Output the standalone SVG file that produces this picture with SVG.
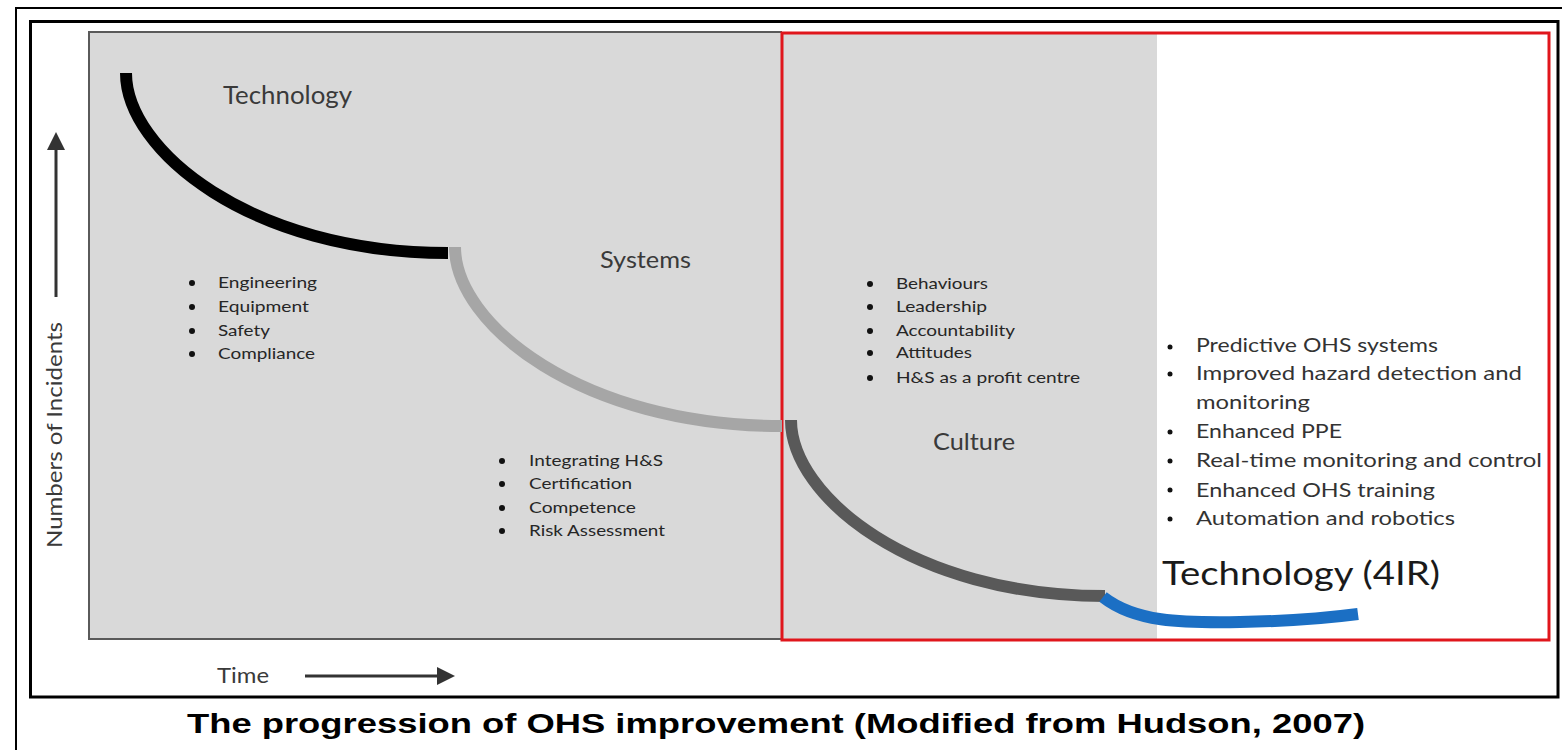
<svg xmlns="http://www.w3.org/2000/svg" width="1562" height="750" viewBox="0 0 1562 750">
  <style>
    .lbl { font-family: Lato, "Open Sans", "Liberation Sans", sans-serif; fill: #3a3a3a; }
    .item { font-family: Lato, "Open Sans", "Liberation Sans", sans-serif; font-size: 16px; fill: #262626; }
    .item4 { font-family: Lato, "Open Sans", "Liberation Sans", sans-serif; font-size: 20px; fill: #333333; }
    .dot { fill: #111111; }
    .curve { fill: none; stroke-width: 12; stroke-linecap: butt; }
    .axis { stroke: #333333; stroke-width: 3; fill: none; }
  </style>
  <defs>
    <marker id="head" viewBox="0 0 10 10" refX="0" refY="5" markerWidth="6" markerHeight="6" orient="auto" markerUnits="strokeWidth">
      <path d="M0,0 L10,5 L0,10 Z" fill="#333333"/>
    </marker>
  </defs>

  <rect width="1562" height="750" fill="#ffffff"/>

  <!-- outer and inner frames -->
  <path d="M16,750 V8 H1562" fill="none" stroke="#000000" stroke-width="2"/>
  <rect x="30.5" y="21.5" width="1527.5" height="675.5" fill="none" stroke="#000000" stroke-width="3"/>

  <!-- plot area -->
  <g id="plot-area">
    <rect x="89" y="32" width="1068" height="607" fill="#d9d9d9"/>
    <path d="M782,32 H89 V639 H782" fill="none" stroke="#5a5a5a" stroke-width="2"/>
  </g>

  <!-- highlighted 4IR region -->
  <g id="region-4ir">
    <rect x="782" y="33" width="767" height="607" fill="none" stroke="#e0161c" stroke-width="3"/>
  </g>

  <!-- axes -->
  <g id="axes">
    <line class="axis" x1="56" y1="297" x2="56" y2="150" marker-end="url(#head)"/>
    <text class="lbl" font-size="21" text-anchor="middle" textLength="226" lengthAdjust="spacingAndGlyphs" transform="translate(62,435) rotate(-90)">Numbers of Incidents</text>
    <line class="axis" x1="305" y1="676" x2="437" y2="676" marker-end="url(#head)"/>
    <text class="lbl" x="217" y="683" font-size="22" textLength="52" lengthAdjust="spacingAndGlyphs">Time</text>
  </g>

  <!-- progression curves -->
  <g id="connectors">
    <path class="curve" stroke="#000000" d="M126,73 C126,150 250,253 448,253"/>
    <path class="curve" stroke="#a6a6a6" d="M455,247 C455,324 581,426 782,426"/>
    <path class="curve" stroke="#595959" d="M791,420 C791,496 912,596 1105,596"/>
    <path class="curve" stroke="#1b6fc4" d="M1103,597 C1135,622 1180,623 1240,622 C1300,621 1335,617 1358,614"/>
  </g>

  <!-- stage: technology -->
  <g id="stage-technology">
    <text class="lbl" x="223" y="104" font-size="25" textLength="129" lengthAdjust="spacingAndGlyphs">Technology</text>
    <circle class="dot" cx="192" cy="283" r="3"/>
    <circle class="dot" cx="192" cy="307" r="3"/>
    <circle class="dot" cx="192" cy="331" r="3"/>
    <circle class="dot" cx="192" cy="354" r="3"/>
    <text class="item" x="218" y="288" textLength="99" lengthAdjust="spacingAndGlyphs">Engineering</text>
    <text class="item" x="218" y="312" textLength="91" lengthAdjust="spacingAndGlyphs">Equipment</text>
    <text class="item" x="218" y="336" textLength="52" lengthAdjust="spacingAndGlyphs">Safety</text>
    <text class="item" x="218" y="359" textLength="97" lengthAdjust="spacingAndGlyphs">Compliance</text>
  </g>

  <!-- stage: systems -->
  <g id="stage-systems">
    <text class="lbl" x="600" y="268" font-size="23" textLength="91" lengthAdjust="spacingAndGlyphs">Systems</text>
    <circle class="dot" cx="502" cy="461" r="3"/>
    <circle class="dot" cx="502" cy="484" r="3"/>
    <circle class="dot" cx="502" cy="508" r="3"/>
    <circle class="dot" cx="502" cy="531" r="3"/>
    <text class="item" x="529" y="466" textLength="134" lengthAdjust="spacingAndGlyphs">Integrating H&amp;S</text>
    <text class="item" x="529" y="489" textLength="103" lengthAdjust="spacingAndGlyphs">Certification</text>
    <text class="item" x="529" y="513" textLength="107" lengthAdjust="spacingAndGlyphs">Competence</text>
    <text class="item" x="529" y="536" textLength="136" lengthAdjust="spacingAndGlyphs">Risk Assessment</text>
  </g>

  <!-- stage: culture -->
  <g id="stage-culture">
    <circle class="dot" cx="870" cy="284" r="3"/>
    <circle class="dot" cx="870" cy="307" r="3"/>
    <circle class="dot" cx="870" cy="331" r="3"/>
    <circle class="dot" cx="870" cy="353" r="3"/>
    <circle class="dot" cx="870" cy="378" r="3"/>
    <text class="item" x="896" y="289" textLength="92" lengthAdjust="spacingAndGlyphs">Behaviours</text>
    <text class="item" x="896" y="312" textLength="91" lengthAdjust="spacingAndGlyphs">Leadership</text>
    <text class="item" x="896" y="336" textLength="119" lengthAdjust="spacingAndGlyphs">Accountability</text>
    <text class="item" x="896" y="358" textLength="76" lengthAdjust="spacingAndGlyphs">Attitudes</text>
    <text class="item" x="896" y="383" textLength="184" lengthAdjust="spacingAndGlyphs">H&amp;S as a profit centre</text>
    <text class="lbl" x="933" y="450" font-size="23" textLength="82" lengthAdjust="spacingAndGlyphs">Culture</text>
  </g>

  <!-- stage: technology (4IR) -->
  <g id="stage-4ir">
    <circle class="dot" cx="1170" cy="347" r="2.5"/>
    <circle class="dot" cx="1170" cy="374" r="2.5"/>
    <circle class="dot" cx="1170" cy="432" r="2.5"/>
    <circle class="dot" cx="1170" cy="461" r="2.5"/>
    <circle class="dot" cx="1170" cy="490" r="2.5"/>
    <circle class="dot" cx="1170" cy="519" r="2.5"/>
    <text class="item4" x="1196" y="352" textLength="242" lengthAdjust="spacingAndGlyphs">Predictive OHS systems</text>
    <text class="item4" x="1196" y="380" textLength="326" lengthAdjust="spacingAndGlyphs">Improved hazard detection and</text>
    <text class="item4" x="1196" y="409" textLength="114" lengthAdjust="spacingAndGlyphs">monitoring</text>
    <text class="item4" x="1196" y="438" textLength="146" lengthAdjust="spacingAndGlyphs">Enhanced PPE</text>
    <text class="item4" x="1196" y="467" textLength="346" lengthAdjust="spacingAndGlyphs">Real-time monitoring and control</text>
    <text class="item4" x="1196" y="497" textLength="239" lengthAdjust="spacingAndGlyphs">Enhanced OHS training</text>
    <text class="item4" x="1196" y="525" textLength="259" lengthAdjust="spacingAndGlyphs">Automation and robotics</text>
    <text x="1162" y="585" font-family="Lato, 'Open Sans', 'Liberation Sans', sans-serif" font-size="32" fill="#1a1a1a" textLength="278" lengthAdjust="spacingAndGlyphs">Technology (4IR)</text>
  </g>

  <!-- caption -->
  <text x="187" y="733" font-family="'Liberation Sans', Arial, sans-serif" font-weight="bold" font-size="27" fill="#000000" textLength="1178" lengthAdjust="spacingAndGlyphs">The progression of OHS improvement (Modified from Hudson, 2007)</text>
</svg>
